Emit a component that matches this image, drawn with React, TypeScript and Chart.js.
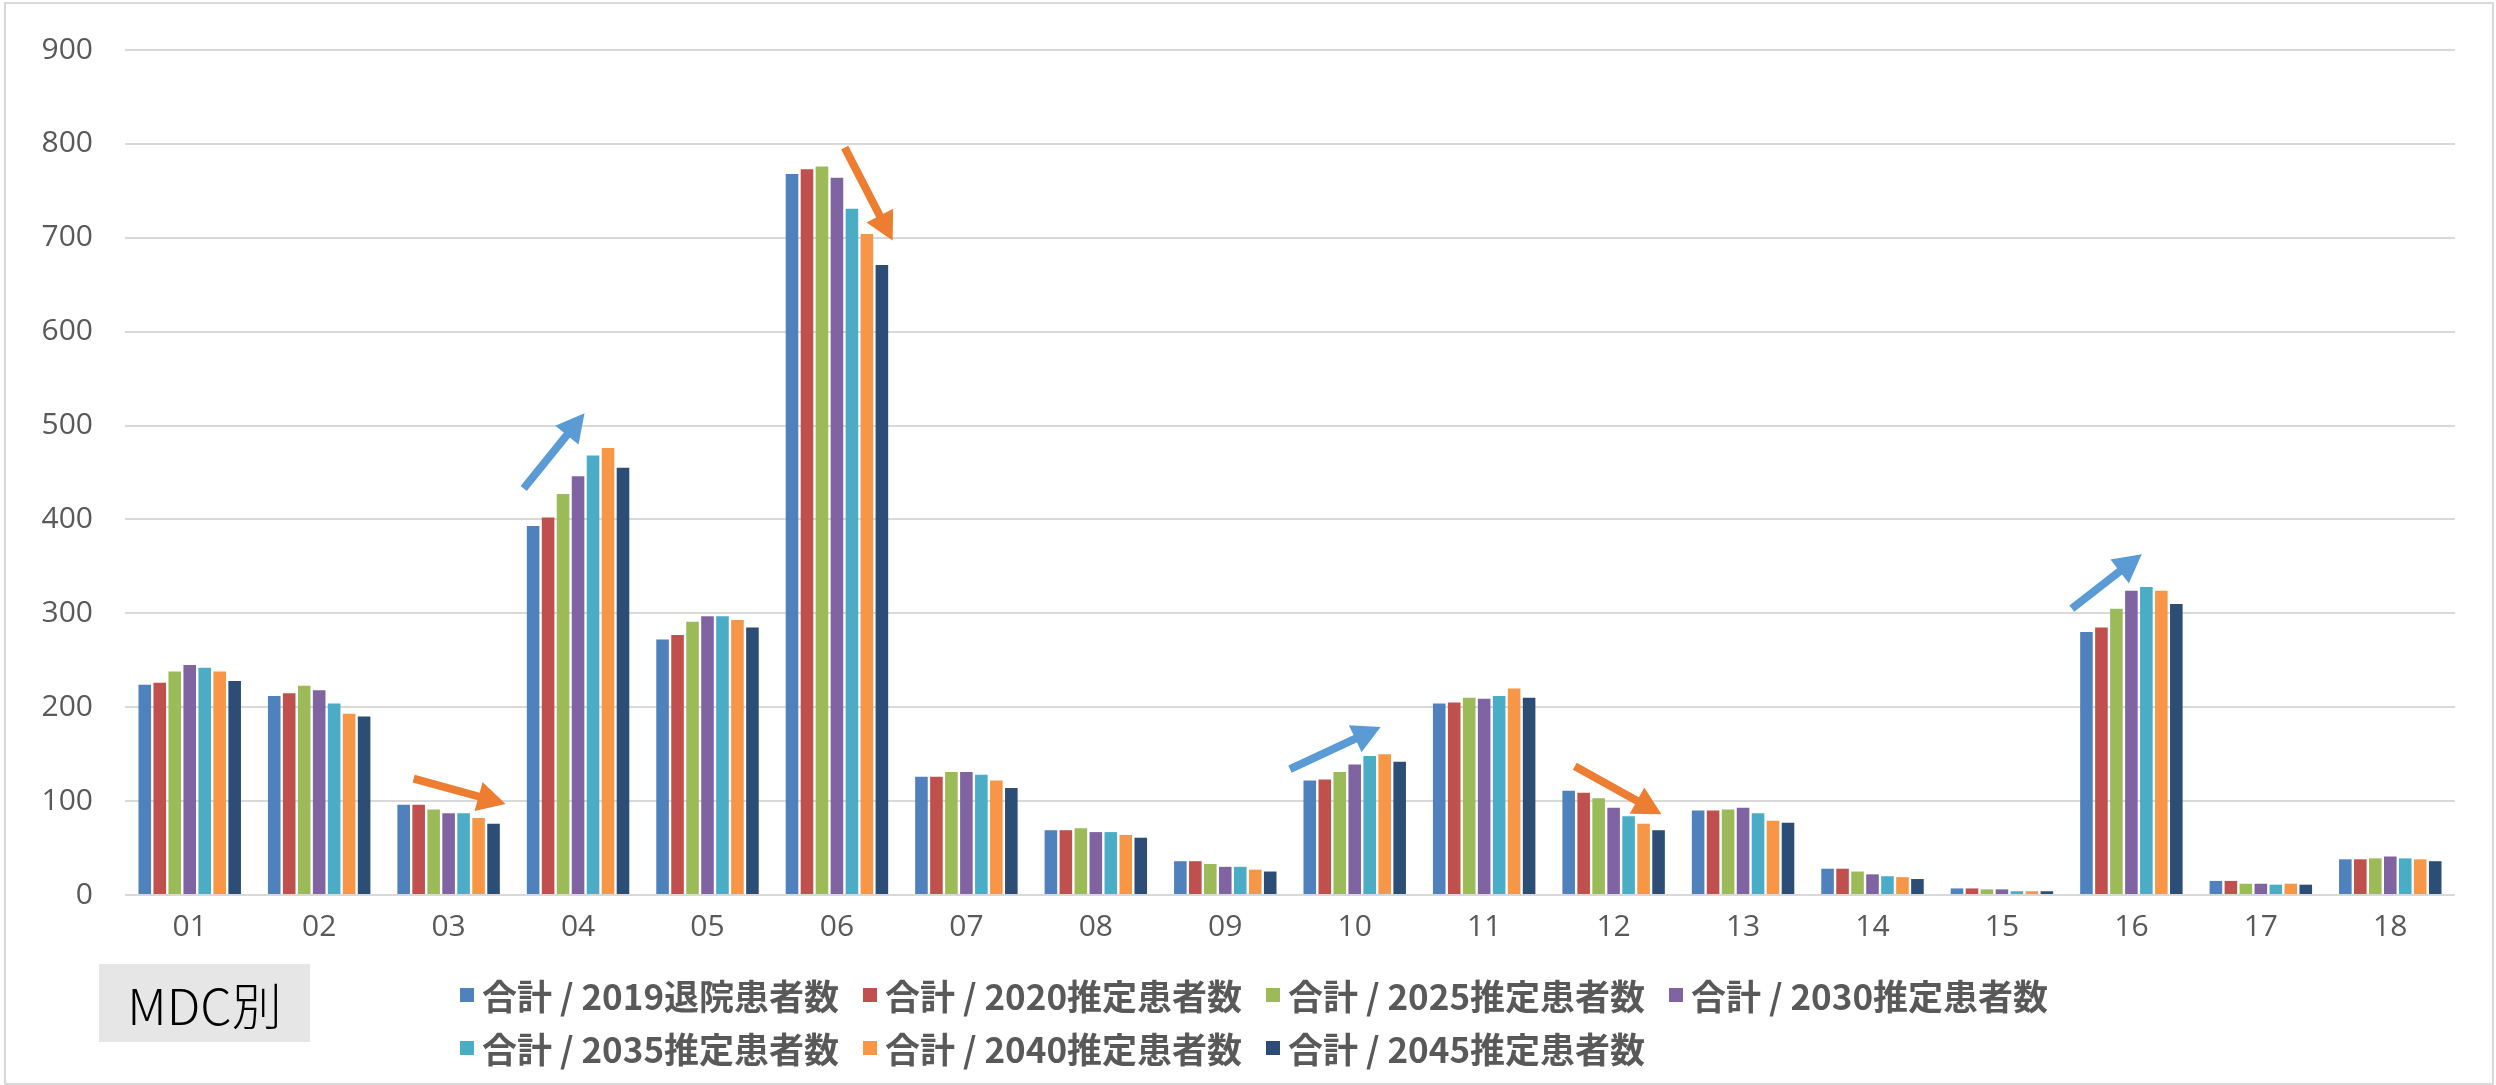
import React, { useEffect, useRef } from "react";
import { Chart, registerables } from "chart.js";

Chart.register(...registerables);

const CATEGORIES = ["01", "02", "03", "04", "05", "06", "07", "08", "09", "10", "11", "12", "13", "14", "15", "16", "17", "18"];

const SERIES_NAMES = [
  "合計 / 2019退院患者数",
  "合計 / 2020推定患者数",
  "合計 / 2025推定患者数",
  "合計 / 2030推定患者数",
  "合計 / 2035推定患者数",
  "合計 / 2040推定患者数",
  "合計 / 2045推定患者数",
];

const COLORS = ["#4F81BD", "#C0504D", "#9BBB59", "#8064A2", "#4BACC6", "#F79646", "#2C4D75"];

const S2019 = [224, 212, 96, 393, 272, 768, 126, 69, 36, 122, 204, 111, 90, 28, 7, 280, 15, 38];
const S2020 = [226, 215, 96, 402, 277, 773, 126, 69, 36, 123, 205, 109, 90, 28, 7, 285, 15, 38];
const S2025 = [238, 223, 91, 427, 291, 776, 131, 71, 33, 131, 210, 103, 91, 25, 6, 305, 12, 39];
const S2030 = [245, 218, 87, 446, 297, 764, 131, 67, 30, 139, 209, 93, 93, 22, 6, 324, 12, 41];
const S2035 = [242, 204, 87, 468, 297, 731, 128, 67, 30, 148, 212, 84, 87, 20, 4, 328, 11, 39];
const S2040 = [238, 193, 82, 476, 293, 704, 122, 64, 27, 150, 220, 76, 79, 19, 4, 324, 12, 38];
const S2045 = [228, 190, 76, 455, 285, 671, 114, 61, 25, 142, 210, 69, 77, 17, 4, 310, 11, 36];

const SERIES = [S2019, S2020, S2025, S2030, S2035, S2040, S2045];

const Y_MIN = 0;
const Y_MAX = 900;
const Y_STEP = 100;

const BOX_LABEL = "MDC別";

// Annotation arrows in data space: [fromIndex, fromValue, toIndex, toValue, color]
const ARROW_ORANGE = "#ED7D31";
const ARROW_BLUE = "#5B9BD5";
const ARROWS: [number, number, number, number, string][] = [
  [1.73, 124, 2.44, 97, ARROW_ORANGE],
  [2.58, 433, 3.05, 513, ARROW_BLUE],
  [5.06, 796, 5.43, 697, ARROW_ORANGE],
  [8.5, 134, 9.2, 179, ARROW_BLUE],
  [10.7, 137, 11.37, 86, ARROW_ORANGE],
  [14.54, 305, 15.08, 363, ARROW_BLUE],
];

const arrowPlugin = {
  id: "arrows",
  afterDatasetsDraw(chart: any) {
    const { ctx, scales } = chart;
    const xs = scales.x;
    const ys = scales.y;
    ARROWS.forEach(([i0, v0, i1, v1, color]) => {
      const x0 = xs.getPixelForValue(i0);
      const y0 = ys.getPixelForValue(v0);
      const x1 = xs.getPixelForValue(i1);
      const y1 = ys.getPixelForValue(v1);
      const ang = Math.atan2(y1 - y0, x1 - x0);
      const headLen = 28;
      const headHalf = 15;
      const bx = x1 - headLen * Math.cos(ang);
      const by = y1 - headLen * Math.sin(ang);
      ctx.save();
      ctx.strokeStyle = color;
      ctx.fillStyle = color;
      ctx.lineWidth = 8;
      ctx.lineCap = "butt";
      ctx.beginPath();
      ctx.moveTo(x0, y0);
      ctx.lineTo(bx + 2 * Math.cos(ang), by + 2 * Math.sin(ang));
      ctx.stroke();
      ctx.beginPath();
      ctx.moveTo(x1, y1);
      ctx.lineTo(bx + headHalf * Math.sin(ang), by - headHalf * Math.cos(ang));
      ctx.lineTo(bx - headHalf * Math.sin(ang), by + headHalf * Math.cos(ang));
      ctx.closePath();
      ctx.fill();
      ctx.restore();
    });
  },
};

export default function App() {
  const canvasRef = useRef<HTMLCanvasElement | null>(null);

  useEffect(() => {
    if (!canvasRef.current) return;
    const chart = new Chart(canvasRef.current, {
      type: "bar",
      data: {
        labels: CATEGORIES,
        datasets: SERIES.map((s, i) => ({
          label: SERIES_NAMES[i],
          data: s,
          backgroundColor: COLORS[i],
          borderWidth: 0,
          categoryPercentage: 0.81,
          barPercentage: 0.84,
        })),
      },
      options: {
        responsive: false,
        animation: false,
        devicePixelRatio: 1,
        layout: { padding: { left: 0, right: 41, top: 22, bottom: 130 } },
        plugins: {
          legend: { display: false },
          tooltip: { enabled: false },
        },
        scales: {
          x: {
            grid: { display: false, drawTicks: false },
            border: { display: false },
            ticks: {
              color: "#595959",
              font: { family: "'Open Sans', 'Noto Sans', sans-serif", size: 30 },
              padding: 14,
              maxRotation: 0,
            },
            afterFit(scale: any) {
              scale.height = 60;
            },
          },
          y: {
            min: Y_MIN,
            max: Y_MAX,
            grid: { color: "#d9d9d9", lineWidth: 2, drawTicks: false },
            border: { display: false },
            ticks: {
              stepSize: Y_STEP,
              color: "#595959",
              font: { family: "'Open Sans', 'Noto Sans', sans-serif", size: 30 },
              padding: 32,
            },
            afterFit(scale: any) {
              scale.width = 125;
            },
          },
        },
      },
      plugins: [arrowPlugin],
    });
    return () => chart.destroy();
  }, []);

  return (
    <div
      style={{
        position: "fixed",
        left: 0,
        top: 0,
        width: 2496,
        height: 1085,
        background: "#ffffff",
        overflow: "hidden",
      }}
    >
      <canvas
        ref={canvasRef}
        width={2496}
        height={1085}
        style={{ position: "absolute", left: 0, top: 0, width: 2496, height: 1085 }}
      />
      <div
        style={{
          position: "absolute",
          left: 4,
          top: 2,
          width: 2486,
          height: 1079,
          border: "2px solid #d9d9d9",
          pointerEvents: "none",
        }}
      />
      <div
        style={{
          position: "absolute",
          left: 99,
          top: 964,
          width: 211,
          height: 78,
          background: "#e6e6e6",
          display: "flex",
          alignItems: "center",
          justifyContent: "center",
          fontFamily: "'Noto Sans CJK JP', sans-serif",
          fontSize: 50,
          fontWeight: 300,
          color: "#000000",
        }}
      >
        {BOX_LABEL}
      </div>
      <div
        style={{
          position: "absolute",
          left: 460,
          top: 968,
          width: 1620,
          display: "flex",
          flexWrap: "wrap",
          fontFamily: "'Noto Sans CJK JP', sans-serif",
          fontSize: 35,
          fontWeight: 700,
          color: "#595959",
        }}
      >
        {SERIES_NAMES.map((name, i) => (
          <div
            key={name}
            style={{ width: 403, height: 53, display: "flex", alignItems: "center", whiteSpace: "nowrap" }}
          >
            <span
              style={{ display: "inline-block", width: 14, height: 14, background: COLORS[i], marginRight: 8, flex: "none" }}
            />
            <span>{name}</span>
          </div>
        ))}
      </div>
    </div>
  );
}
